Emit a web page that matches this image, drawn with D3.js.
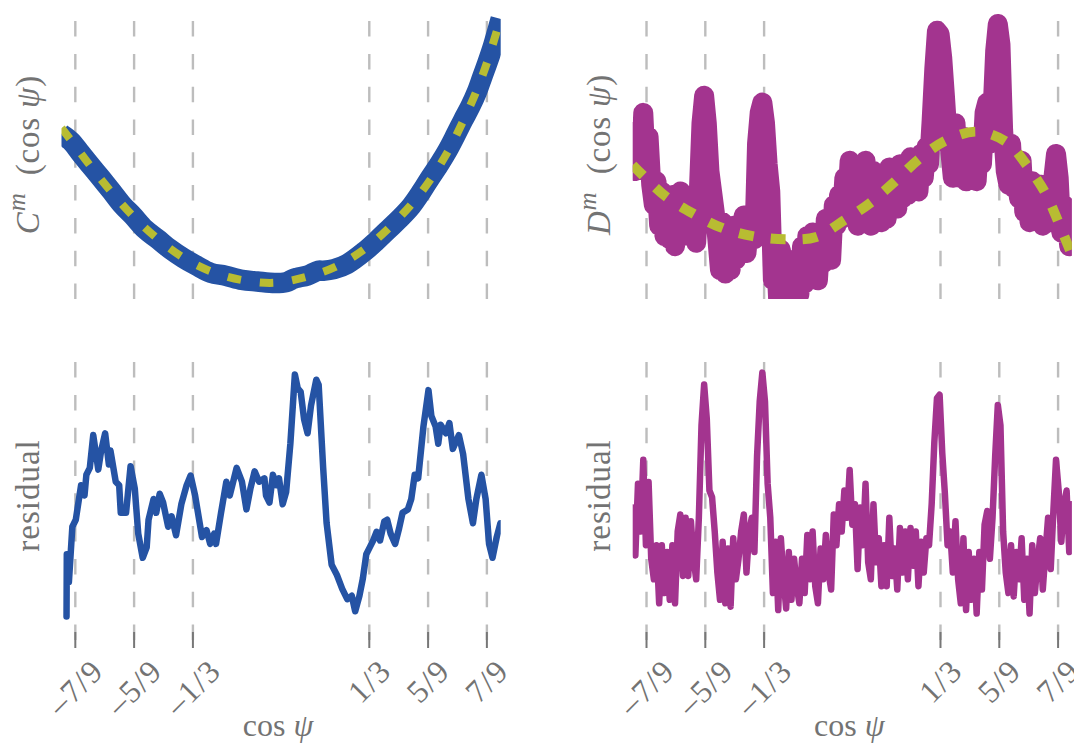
<!DOCTYPE html>
<html><head><meta charset="utf-8">
<script src="https://cdn.jsdelivr.net/npm/d3@7"></script>
<style>
html,body{margin:0;padding:0;background:#fff;}
svg{display:block;}
text{font-family:"Liberation Serif","DejaVu Serif",serif;fill:#737373;}
</style></head><body>
<svg id="chart" width="1074" height="743"></svg>
<script>
// ---- cos ψ ticks ----
const tickValues = [-7/9, -5/9, -1/3, 1/3, 5/9, 7/9];
const tickLabels = ["\u20137/9", "\u20135/9", "\u20131/3", "1/3", "5/9", "7/9"];

// ---- C^m(cos ψ): measured curve ----
const cX = [-0.83,-0.795,-0.76,-0.721,-0.68,-0.642,-0.60,-0.56,-0.515,-0.468,-0.42,-0.37,-0.32,-0.266,-0.21,-0.148,-0.09,-0.024,0.02,0.045,0.06,0.10,0.14,0.16,0.20,0.25,0.316,0.36,0.407,0.45,0.492,0.53,0.564,0.60,0.629,0.66,0.688,0.715,0.74,0.76,0.779,0.80,0.819,0.83];
const cValues = [1.65,1.58,1.465,1.337,1.206,1.081,0.94,0.832,0.70,0.602,0.50,0.41,0.334,0.261,0.233,0.191,0.175,0.16,0.169,0.20,0.212,0.236,0.283,0.283,0.298,0.35,0.477,0.58,0.699,0.808,0.929,1.072,1.214,1.358,1.485,1.642,1.789,1.924,2.071,2.218,2.356,2.522,2.698,2.80];

// ---- C^m fit ----
const cFitX = [-0.83,-0.795,-0.721,-0.642,-0.560,-0.468,-0.370,-0.266,-0.148,-0.024,0.100,0.211,0.316,0.407,0.492,0.564,0.629,0.688,0.740,0.779,0.819,0.83];
const cFitValues = [1.71,1.590,1.331,1.072,0.830,0.605,0.415,0.277,0.190,0.162,0.225,0.328,0.501,0.709,0.945,1.193,1.469,1.780,2.09,2.37,2.713,2.81];

// ---- C^m residual ----
const cResX = [-0.811,-0.810,-0.802,-0.789,-0.776,-0.756,-0.743,-0.736,-0.723,-0.710,
-0.691,-0.680,-0.665,-0.651,-0.645,-0.625,-0.612,-0.606,-0.586,-0.569,
-0.553,-0.540,-0.523,-0.508,-0.501,-0.482,-0.472,-0.459,-0.446,-0.427,
-0.414,-0.397,-0.377,-0.357,-0.342,-0.325,-0.299,-0.282,-0.268,-0.253,
-0.246,-0.227,-0.207,-0.194,-0.168,-0.148,-0.131,-0.116,-0.100,-0.083,
-0.063,-0.057,-0.044,-0.031,-0.018,-0.008,0.006,0.019,0.035,0.052,
0.063,0.074,0.087,0.100,0.113,0.133,0.142,0.159,0.172,0.191,
0.211,0.231,0.250,0.267,0.280,0.296,0.309,0.322,0.335,0.348,
0.361,0.374,0.390,0.401,0.414,0.431,0.446,0.459,0.479,0.492,
0.505,0.518,0.538,0.557,0.568,0.584,0.594,0.603,0.623,0.636,
0.649,0.672,0.688,0.708,0.725,0.738,0.757,0.773,0.786,0.799,
0.815,0.829];
const cResValues = [-1.315,-0.693,-0.970,-0.417,-0.347,-0.002,-0.105,0.102,0.171,0.499,
0.154,0.344,0.517,0.206,0.344,0.033,-0.002,-0.278,-0.278,0.188,
-0.036,-0.486,-0.728,-0.624,-0.347,-0.140,-0.278,-0.088,-0.175,-0.417,
-0.313,-0.503,-0.192,-0.002,0.095,-0.105,-0.520,-0.451,-0.589,-0.486,
-0.589,-0.278,0.033,-0.105,0.171,0.033,-0.244,-0.036,0.137,0.033,
0.067,-0.105,-0.175,0.102,-0.002,0.067,-0.192,-0.071,0.413,1.105,
0.966,0.932,0.655,0.517,0.793,1.053,1.001,0.171,-0.382,-0.797,
-0.900,-1.038,-1.142,-1.108,-1.263,-1.108,-0.935,-0.693,-0.624,-0.555,
-0.468,-0.555,-0.365,-0.347,-0.486,-0.589,-0.434,-0.278,-0.244,-0.140,
0.102,0.067,0.586,0.949,0.690,0.586,0.413,0.603,0.517,0.620,
0.361,0.499,0.309,-0.140,-0.382,-0.140,0.102,-0.140,-0.589,-0.728,
-0.520,-0.382];

// ---- D^m(cos ψ): sampled on a uniform cos ψ grid ----
const gridStart = -0.83, gridStep = 0.01;
const dValues = [1.533,1.333,1.733,1.4,1.9,1.367,1.667,1.2,1.0,1.233,
0.8,1.133,0.7,1.067,0.667,1.1,0.6,1.033,1.133,0.7,
1.067,0.733,1.033,0.833,0.633,1.133,1.8,2.067,1.8,1.333,
1.133,0.933,0.667,0.367,0.833,0.333,0.733,0.367,0.8,0.467,
0.6,0.767,0.9,0.533,0.8,0.867,0.667,1.6,1.9,2.0,
1.8,1.4,1.133,0.267,0.6,0.067,0.567,0.133,0.033,0.467,
0.067,0.433,0.2,0.133,0.6,0.233,0.7,0.333,0.733,0.367,
0.267,0.667,0.433,0.867,0.567,0.467,1.0,0.8,1.1,0.867,
1.267,1.0,1.433,0.933,1.133,0.8,1.367,1.0,1.433,0.867,
0.8,1.333,0.867,1.133,0.833,1.233,0.867,1.367,1.0,1.233,
0.967,1.4,1.067,1.367,1.1,1.467,1.2,1.467,1.133,1.5,
1.267,1.567,1.4,1.833,2.333,2.7,2.667,2.433,2.067,1.667,
1.533,1.267,1.8,1.333,1.267,1.667,1.233,1.6,1.267,1.6,
1.233,1.667,1.4,1.9,2.0,1.6,1.9,2.5,2.767,2.567,
1.733,1.333,1.2,1.6,1.167,1.4,1.067,1.433,0.933,1.2,
0.833,1.233,0.867,1.067,1.2,0.8,1.067,1.2,0.833,1.267,
1.5,1.267,0.733,1.0,0.867,0.6,0.933];

// ---- D^m fit ----
const dFitX = [-0.83,-0.795,-0.704,-0.601,-0.497,-0.381,-0.254,-0.136,-0.032,0.065,0.162,0.252,0.356,0.472,0.582,0.666,0.730,0.782,0.827,0.83];
const dFitValues = [1.39,1.30,1.083,0.917,0.783,0.70,0.667,0.69,0.85,1.017,1.233,1.45,1.633,1.717,1.617,1.367,1.117,0.817,0.533,0.515];

// ---- D^m residual (same grid) ----
const dResValues = [0.367,-0.1,0.6,0.133,0.833,0.0,0.617,-0.133,-0.333,0.0,
-0.567,0.0,-0.467,-0.067,-0.533,0.0,-0.567,0.133,0.3,-0.3,
0.267,-0.3,0.233,-0.133,-0.333,0.267,1.167,1.567,1.233,0.533,
0.467,0.133,-0.267,-0.533,0.033,-0.567,-0.033,-0.6,0.067,-0.333,
-0.133,0.133,0.3,-0.267,0.133,0.267,-0.067,0.867,1.4,1.683,
1.4,0.6,0.267,-0.467,0.033,-0.633,0.067,-0.333,-0.617,-0.067,
-0.533,-0.133,-0.4,-0.567,-0.133,-0.467,0.1,-0.333,0.133,-0.4,
-0.567,-0.033,-0.333,0.1,-0.267,-0.433,0.3,0.0,0.4,0.133,
0.533,0.267,0.733,0.2,0.4,-0.233,0.367,0.0,0.6,-0.167,
-0.333,0.4,-0.167,0.067,-0.4,0.0,-0.4,0.267,-0.3,-0.033,
-0.433,0.167,-0.267,0.133,-0.333,0.167,-0.2,0.133,-0.4,0.033,
-0.267,0.067,0.0,0.4,1.0,1.433,1.467,0.9,0.5,0.0,
0.133,-0.267,0.233,-0.333,-0.567,0.067,-0.633,-0.067,-0.533,-0.133,
-0.667,-0.067,-0.433,0.2,0.333,-0.133,0.267,0.867,1.367,1.167,
0.133,-0.267,-0.467,0.0,-0.5,-0.067,-0.333,0.067,-0.533,-0.133,
-0.667,0.0,-0.467,-0.167,0.067,-0.433,-0.067,0.267,-0.233,0.333,
0.833,0.533,0.033,0.4,0.533,-0.067,0.4];

// ---- styling ----
const BLUE = "#2553a4", MAGENTA = "#a3348f", OLIVE = "#b8bc32";
const GRID = "#bdbdbd", TICK = "#777777";

// ---- layout ----
const cols = [
  {x0: 61.5, x1: 500.7},
  {x0: 632.7, x1: 1071.9}
];
const rows = [
  {y0: 10, y1: 299},
  {y0: 351, y1: 640}
];

const svg = d3.select("#chart");
const defs = svg.append("defs");

const xScales = cols.map(c => d3.scaleLinear().domain([-0.83, 0.83]).range([c.x0, c.x1]));
const yC = d3.scaleLinear().domain([0, 2.89]).range([rows[0].y1, rows[0].y0]);
const yCRes = d3.scaleLinear().domain([-1.55, 1.34]).range([rows[1].y1, rows[1].y0]);
const yD = d3.scaleLinear().domain([0.085, 2.903]).range([rows[0].y1, rows[0].y0]);
const yDRes = d3.scaleLinear().domain([-0.925, 1.894]).range([rows[1].y1, rows[1].y0]);

const gridX = dValues.map((_, i) => gridStart + gridStep * i);

// panel groups with clip paths
function panel(ci, ri) {
  const c = cols[ci], r = rows[ri];
  const id = `clip-${ci}-${ri}`;
  defs.append("clipPath").attr("id", id).append("rect")
    .attr("x", c.x0).attr("y", r.y0).attr("width", c.x1 - c.x0).attr("height", r.y1 - r.y0);
  const g = svg.append("g");
  // vertical dashed grid at the ticks, dashes laid out from the bottom edge up
  g.selectAll("line.grid").data(tickValues).join("line")
    .attr("class", "grid")
    .attr("x1", d => xScales[ci](d)).attr("x2", d => xScales[ci](d))
    .attr("y1", r.y1).attr("y2", r.y0)
    .attr("stroke", GRID).attr("stroke-width", 2.4)
    .attr("stroke-dasharray", "15.5,17.3");
  const plot = svg.append("g").attr("clip-path", `url(#${id})`);
  return {g, plot, c, r};
}

function drawLine(parent, xs, ys, xScale, yScale, opts) {
  const pts = xs.map((x, i) => [x, ys[i]]);
  const line = d3.line().x(d => xScale(d[0])).y(d => yScale(d[1])).curve(opts.curve || d3.curveLinear);
  parent.append("path").attr("d", line(pts))
    .attr("fill", "none").attr("stroke", opts.color).attr("stroke-width", opts.width)
    .attr("stroke-linejoin", opts.join || "round").attr("stroke-linecap", opts.cap || "round")
    .attr("stroke-dasharray", opts.dash || null);
}

// top-left: C^m and its fit
const tl = panel(0, 0);
drawLine(tl.plot, cX, cValues, xScales[0], yC, {color: BLUE, width: 20.5, curve: d3.curveCatmullRom, cap: "butt"});
drawLine(tl.plot, cFitX, cFitValues, xScales[0], yC, {color: OLIVE, width: 8, curve: d3.curveCatmullRom, cap: "butt", dash: "13.5,19"});

// top-right: D^m and its fit
const tr = panel(1, 0);
drawLine(tr.plot, gridX, dValues, xScales[1], yD, {color: MAGENTA, width: 20});
drawLine(tr.plot, dFitX, dFitValues, xScales[1], yD, {color: OLIVE, width: 10, curve: d3.curveCatmullRom, cap: "butt", dash: "15,17"});

// bottom-left: residual of C^m
const bl = panel(0, 1);
drawLine(bl.plot, cResX, cResValues, xScales[0], yCRes, {color: BLUE, width: 6.5});

// bottom-right: residual of D^m
const br = panel(1, 1);
drawLine(br.plot, gridX, dResValues, xScales[1], yDRes, {color: MAGENTA, width: 6.5});

// ticks and rotated tick labels on the bottom row
const labelTop = 657;
const tickFont = 32;
[bl, br].forEach((p, ci) => {
  const xs = xScales[ci];
  p.g.selectAll("line.tick").data(tickValues).join("line")
    .attr("class", "tick")
    .attr("x1", d => xs(d)).attr("x2", d => xs(d))
    .attr("y1", p.r.y1 - 8).attr("y2", p.r.y1 + 8)
    .attr("stroke", TICK).attr("stroke-width", 2);
  tickValues.forEach((v, i) => {
    const t = p.g.append("text")
      .attr("font-size", tickFont)
      .attr("letter-spacing", 1.5)
      .attr("text-anchor", "middle")
      .attr("dominant-baseline", "central")
      .text(tickLabels[i]);
    const w = t.node().getComputedTextLength();
    const h = tickFont * 0.7;
    const side = (w + h) / Math.SQRT2;
    t.attr("transform", `translate(${xs(v)},${labelTop + side / 2}) rotate(-45)`);
  });
  // x axis title
  const xt = p.g.append("text")
    .attr("x", (p.c.x0 + p.c.x1) / 2 - 3).attr("y", 736)
    .attr("text-anchor", "middle").attr("font-size", 32);
  xt.append("tspan").text("cos\u00a0");
  xt.append("tspan").attr("font-style", "italic").text("\u03c8");
});

// y axis titles
function yTitle(p, parts, spacing) {
  const cy = (p.r.y0 + p.r.y1) / 2;
  const t = svg.append("text")
    .attr("transform", `translate(${p.c.x0 - 23},${cy}) rotate(-90)`)
    .attr("text-anchor", "middle").attr("font-size", 33)
    .attr("letter-spacing", spacing || 0);
  parts.forEach(pt => {
    const s = t.append("tspan").text(pt.text);
    if (pt.italic) s.attr("font-style", "italic");
    if (pt.size) s.attr("font-size", pt.size);
    if (pt.dy) s.attr("dy", pt.dy);
  });
}
yTitle(tl, [
  {text: "C", italic: true},
  {text: "m", italic: true, size: 25, dy: -14},
  {text: "\u2002(cos\u00a0", dy: 14},
  {text: "\u03c8", italic: true},
  {text: ")"}
], 0.8);
yTitle(tr, [
  {text: "D", italic: true},
  {text: "m", italic: true, size: 25, dy: -14},
  {text: "\u2002(cos\u00a0", dy: 14},
  {text: "\u03c8", italic: true},
  {text: ")"}
], 0.8);
yTitle(bl, [{text: "residual"}], 1);
yTitle(br, [{text: "residual"}], 1);
</script>
</body></html>
